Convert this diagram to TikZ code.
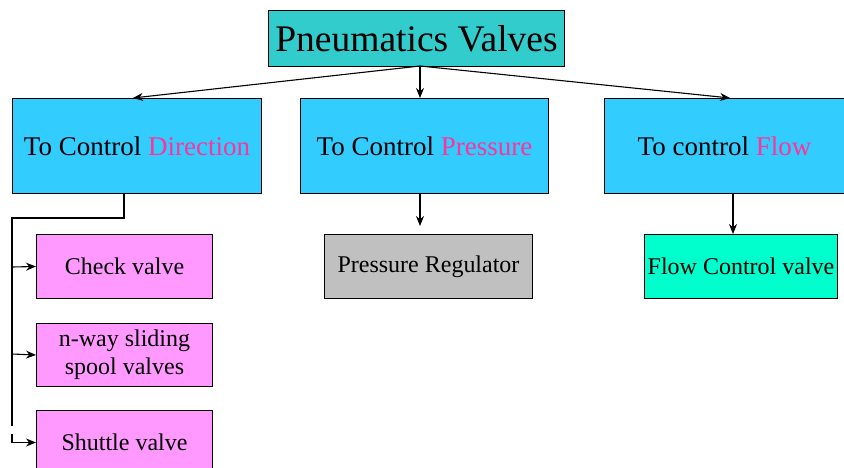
\documentclass[tikz,border=0pt]{standalone}
\usepackage{fontspec}
\setmainfont{Liberation Serif}
\usetikzlibrary{arrows.meta}
\definecolor{titlefill}{HTML}{33CCCC}
\definecolor{catfill}{HTML}{33CCFF}
\definecolor{pinkfill}{HTML}{FF99FF}
\definecolor{greyfill}{HTML}{C0C0C0}
\definecolor{flowfill}{HTML}{00FFCC}
\definecolor{hl}{HTML}{FF3399}
\begin{document}
\begin{tikzpicture}[x=1pt,y=-1pt,
  box/.style={draw=black,line width=1pt,inner sep=0pt,anchor=north west},
  cat/.style={box,fill=catfill,minimum height=95pt,font=\fontsize{27}{30}\selectfont},
  leaf/.style={box,minimum height=64pt,font=\fontsize{24}{28}\selectfont},
  arr/.style={-{Stealth[length=10pt,width=8pt]},line width=1.1pt},
  ln/.style={line width=1.1pt}]
\useasboundingbox (0,0) rectangle (844,468);
% title
\node[box,fill=titlefill,minimum width=296pt,minimum height=56pt,font=\fontsize{37.5}{40}\selectfont] (title) at (268,10) {Pneumatics Valves};
% categories
\node[cat,minimum width=249pt] (dir) at (12,98) {To Control \textcolor{hl}{Direction}};
\node[cat,minimum width=248pt] (pres) at (300,98) {To Control \textcolor{hl}{Pressure}};
\node[cat,minimum width=240pt] (flow) at (604,98) {To control \textcolor{hl}{Flow}};
% leaves
\node[leaf,fill=pinkfill,minimum width=176pt] (check) at (36,234) {Check valve};
\node[leaf,fill=pinkfill,minimum width=176pt,minimum height=63pt,align=center] (nway) at (36,323) {n-way sliding\\ spool valves};
\node[leaf,fill=pinkfill,minimum width=176pt] (shuttle) at (36,410) {Shuttle valve};
\node[leaf,fill=greyfill,minimum width=208pt] (reg) at (324,234) {Pressure Regulator};
\node[leaf,fill=flowfill,minimum width=193pt] (fcv) at (644,234) {Flow Control valve};
% top connectors
\coordinate (tsrc) at (420,66);
\coordinate (tdir) at (133,98);
\coordinate (tpres) at (420,98);
\coordinate (tflow) at (730,98);
\draw[arr] (tsrc) -- (tdir);
\draw[arr] (tsrc) -- (tpres);
\draw[arr] (tsrc) -- (tflow);
% direction tree
\coordinate (d1) at (124,193);
\coordinate (d2) at (124,218);
\coordinate (d3) at (12,218);
\coordinate (d4) at (12,426);
\coordinate (d5) at (12,434);
\draw[ln] (d1) -- (d2) -- (d3) -- (d4);
\draw[arr] (12,267) -- (check.west);
\draw[arr] (12,354) -- (nway.west);
\draw[arr] (d5) |- (shuttle.west);
% other trees
\coordinate (p1) at (420,193);
\coordinate (p2) at (420,226);
\coordinate (f1) at (733,193);
\coordinate (f2) at (733,234);
\draw[arr] (p1) -- (p2);
\draw[arr] (f1) -- (f2);
\end{tikzpicture}
\end{document}
